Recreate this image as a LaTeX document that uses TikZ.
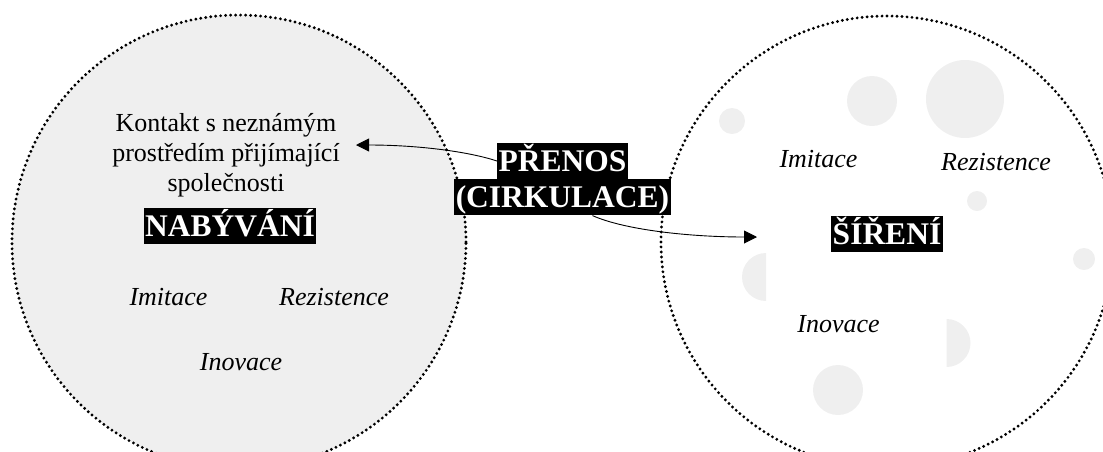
\documentclass[tikz,border=0pt]{standalone}
\usepackage{fontspec}
\setmainfont{Liberation Serif}
\usetikzlibrary{positioning,arrows.meta}
\definecolor{blobgray}{HTML}{EFEFEF}

\begin{document}
\begin{tikzpicture}
            [x=1pt, y=-1pt,
            dotline/.style={line width=3.2pt, dash pattern=on 0pt off 5pt, line cap=round},
            txt/.style={font=\fontsize{26}{30}\selectfont, inner sep=0pt},
            role/.style={font=\fontsize{26}{30}\selectfont\itshape, inner sep=0pt, anchor=base},
            tagbox/.style={fill=black, text=white, font=\fontsize{31.5}{36}\selectfont\bfseries,
            inner xsep=1.5pt, inner ysep=0pt, text height=28pt, text depth=8pt},
            blob/.style={fill=blobgray},
            link/.style={draw=black, line width=0.9pt, -{Triangle[length=13pt, width=13pt]}}]
            \clip (0,0) rectangle (1103,451);
            % receiving society
            \path [dotline, draw, fill=blobgray] (239,242) circle (227pt);
            % spreading society
            \path [dotline, draw] (887,242) circle (226pt);
            \fill [blob] (732,121) circle (13pt);
            \fill [blob] (872,101) circle (25pt);
            \fill [blob] (965,99) circle (39pt);
            \fill [blob] (977,201) circle (10pt);
            \fill [blob] (1084,259) circle (11pt);
            \fill [blob] (838,390) circle (25pt);
            \fill [blob] (766,253) arc (90:270:24pt) -- cycle;
            \fill [blob] (946.5,319) arc (90:-90:24pt) -- cycle;
            % left
            \node [txt, align=center] (kontakt) at (226,155) {Kontakt s neznámým\\prostředím přijímající\\společnosti};
            \node [tagbox] (nabyvani) at (230,226) {NABÝVÁNÍ};
            \node [role] (imitaceA) at (168.5,305) {Imitace};
            \node [role] (rezistA) at (334,305) {Rezistence};
            \node [role] (inovaceA) at (241,370) {Inovace};
            % right
            \node [tagbox] (sireni) at (887,234) {ŠÍŘENÍ};
            \node [role] (imitaceB) at (818.5,167) {Imitace};
            \node [role] (rezistB) at (996,170) {Rezistence};
            \node [role] (inovaceB) at (838.5,332) {Inovace};
            % transfer
            \node [tagbox] (prenos) at (562.5,161) {PŘENOS};
            \node [tagbox, below=0pt of prenos] (cirkulace) {(CIRKULACE)};
            \coordinate (tipA) at (356,145);
            \coordinate (tipB) at (757,237);
            \draw [link] (prenos.west) .. controls (470,152) and (420,145) .. (tipA);
            \draw [link] ([xshift=30pt]cirkulace.south) .. controls (625,230) and (690,237) .. (tipB);
\end{tikzpicture}
\end{document}
